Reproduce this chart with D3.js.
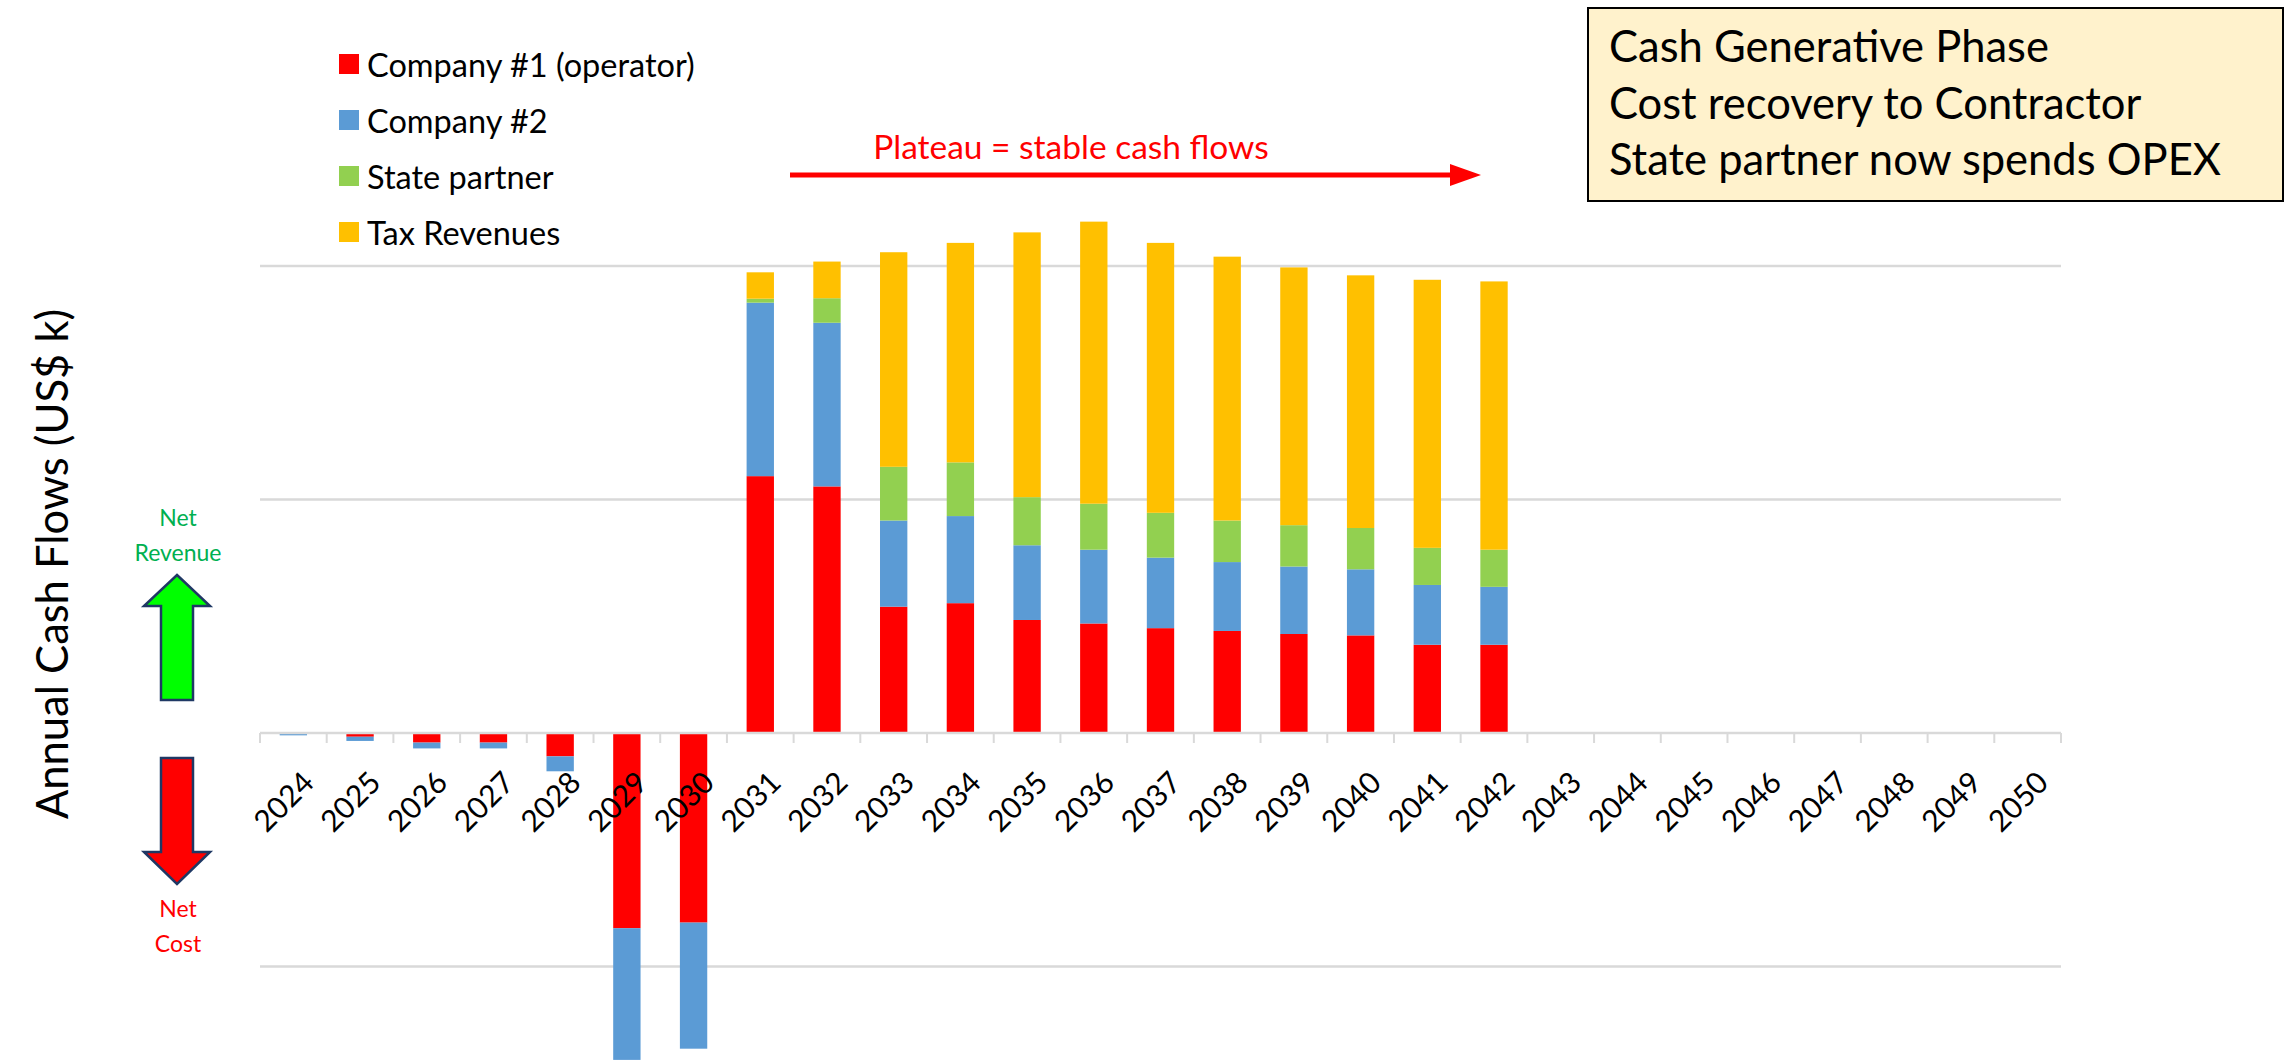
<!DOCTYPE html>
<html lang="en">
<head>
	<meta charset="UTF-8">
	<title>Annual Cash Flows</title>
	<style>
		body{ margin:0; background:#fff; }
		text{ font-family: Lato, "Open Sans", sans-serif; }
	</style>
</head>
<body>
	<script src="https://d3js.org/d3.v7.min.js"></script>
	<script>
		// data (US$ k)
		var years = [2024,2025,2026,2027,2028,2029,2030,2031,2032,2033,2034,2035,2036,2037,2038,2039,2040,2041,2042,2043,2044,2045,2046,2047,2048,2049,2050];
		var companyOne   = [0,-16,-41,-41,-100,-836,-812,1100,1056,541,556,484,469,449,437,424,418,378,378,0,0,0,0,0,0,0,0];
		var companyTwo   = [-10,-18,-25,-25,-64,-564,-540,743,701,369,373,320,316,302,295,289,283,256,248,0,0,0,0,0,0,0,0];
		var statePartner = [0,0,0,0,0,0,0,17,105,230,230,206,197,192,178,177,177,159,159,0,0,0,0,0,0,0,0];
		var taxRevenue   = [0,0,0,0,0,0,0,113,157,919,940,1134,1208,1156,1130,1104,1082,1148,1149,0,0,0,0,0,0,0,0];
		var gridValues = [-1000,1000,2000];

		var seriesNames = ['Company #1 (operator)','Company #2','State partner','Tax Revenues'];
		var seriesKeys = ['c1','c2','sp','tax'];
		var colors = ['#ff0000','#5b9bd5','#92d050','#ffc000'];

		var width = 2290, height = 1061;
		var left = 260, right = 2061;

		var svg = d3.select('body').append('svg')
					.attr('width',width)
					.attr('height',height);

		var x = d3.scaleBand().domain(years).range([left,right]).paddingInner(0.59).paddingOuter(0.295);
		var y = d3.scaleLinear().domain([-1000,2000]).range([966.5,266]);

		// gridlines
		svg.selectAll('line.grid')
			.data(gridValues)
			.enter()
			.append('line')
			.attr('class','grid')
			.attr('x1',left).attr('x2',right)
			.attr('y1',function(d){ return y(d); })
			.attr('y2',function(d){ return y(d); })
			.attr('stroke','#d9d9d9')
			.attr('stroke-width',2.5);

		// stacked bars
		var table = years.map(function(yr,i){
			return {year:yr, c1:companyOne[i], c2:companyTwo[i], sp:statePartner[i], tax:taxRevenue[i]};
		});
		var stack = d3.stack().keys(seriesKeys).offset(d3.stackOffsetDiverging);
		var layers = stack(table);

		svg.selectAll('g.layer')
			.data(layers)
			.enter()
			.append('g')
			.attr('class','layer')
			.attr('fill',function(d,i){ return colors[i]; })
			.selectAll('rect')
			.data(function(d){ return d; })
			.enter()
			.append('rect')
			.attr('x',function(d){ return x(d.data.year); })
			.attr('width',x.bandwidth())
			.attr('y',function(d){ return y(Math.max(d[0],d[1])); })
			.attr('height',function(d){ return Math.abs(y(d[0]) - y(d[1])); });

		// zero axis with category ticks
		var boundaries = d3.range(years.length + 1).map(function(i){ return left + i * (right - left) / years.length; });
		svg.append('line')
			.attr('x1',left).attr('x2',right)
			.attr('y1',y(0)).attr('y2',y(0))
			.attr('stroke','#d9d9d9').attr('stroke-width',2.5);
		svg.selectAll('line.tick')
			.data(boundaries)
			.enter()
			.append('line')
			.attr('class','tick')
			.attr('x1',function(d){ return d; }).attr('x2',function(d){ return d; })
			.attr('y1',y(0)).attr('y2',y(0) + 10)
			.attr('stroke','#d9d9d9').attr('stroke-width',2);

		// rotated year labels
		svg.selectAll('text.year')
			.data(years)
			.enter()
			.append('text')
			.attr('class','year')
			.attr('text-anchor','end')
			.attr('dominant-baseline','central')
			.attr('font-size',30)
			.attr('transform',function(d){
				var cx = x(d) + x.bandwidth() / 2 + 14;
				var cy = y(0) + 43;
				return 'translate(' + cx + ',' + cy + ') rotate(-45)';
			})
			.text(function(d){ return d; });

		// legend
		var legend = svg.selectAll('g.legend')
			.data(seriesNames)
			.enter()
			.append('g')
			.attr('class','legend')
			.attr('transform',function(d,i){ return 'translate(339,' + (64 + i * 56) + ')'; });
		legend.append('rect')
			.attr('x',0).attr('y',-10)
			.attr('width',20).attr('height',20)
			.attr('fill',function(d,i){ return colors[i]; });
		legend.append('text')
			.attr('x',28)
			.attr('dominant-baseline','central')
			.attr('font-size',32.5)
			.text(function(d){ return d; });

		// plateau arrow
		svg.append('line')
			.attr('x1',790).attr('x2',1452)
			.attr('y1',175).attr('y2',175)
			.attr('stroke','#ff0000').attr('stroke-width',5);
		svg.append('path')
			.attr('d','M1450,164 L1481,175 L1450,186 Z')
			.attr('fill','#ff0000');
		svg.append('text')
			.attr('x',1071).attr('y',146)
			.attr('text-anchor','middle')
			.attr('dominant-baseline','central')
			.attr('font-size',33.5)
			.attr('fill','#ff0000')
			.text('Plateau = stable cash flows');

		// phase box
		svg.append('rect')
			.attr('x',1588).attr('y',8)
			.attr('width',695).attr('height',193)
			.attr('fill','#fff2cc')
			.attr('stroke','#000').attr('stroke-width',2);
		var boxLines = ['Cash Generative Phase','Cost recovery to Contractor','State partner now spends OPEX'];
		svg.selectAll('text.box')
			.data(boxLines)
			.enter()
			.append('text')
			.attr('class','box')
			.attr('x',1609)
			.attr('y',function(d,i){ return 62 + i * 56.5; })
			.attr('font-size',43.5)
			.text(function(d){ return d; });

		// y title
		svg.append('text')
			.attr('transform','translate(51,564) rotate(-90)')
			.attr('text-anchor','middle')
			.attr('dominant-baseline','central')
			.attr('font-size',43.5)
			.text('Annual Cash Flows (US$ k)');

		// net revenue / net cost arrows
		svg.append('text')
			.attr('x',178).attr('text-anchor','middle').attr('font-size',23).attr('fill','#00b050')
			.selectAll('tspan')
			.data(['Net','Revenue'])
			.enter()
			.append('tspan')
			.attr('x',178)
			.attr('y',function(d,i){ return 526 + i * 35; })
			.text(function(d){ return d; });
		svg.append('path')
			.attr('d','M177,575 L210,606 L193,606 L193,700 L161,700 L161,606 L144,606 Z')
			.attr('fill','#00ff00').attr('stroke','#1f3864').attr('stroke-width',2.5);
		svg.append('path')
			.attr('d','M161,758 L193,758 L193,852 L210,852 L177,884 L144,852 L161,852 Z')
			.attr('fill','#ff0000').attr('stroke','#1f3864').attr('stroke-width',2.5);
		svg.append('text')
			.attr('x',178).attr('text-anchor','middle').attr('font-size',23).attr('fill','#ff0000')
			.selectAll('tspan')
			.data(['Net','Cost'])
			.enter()
			.append('tspan')
			.attr('x',178)
			.attr('y',function(d,i){ return 917 + i * 35; })
			.text(function(d){ return d; });
	</script>
</body>
</html>
